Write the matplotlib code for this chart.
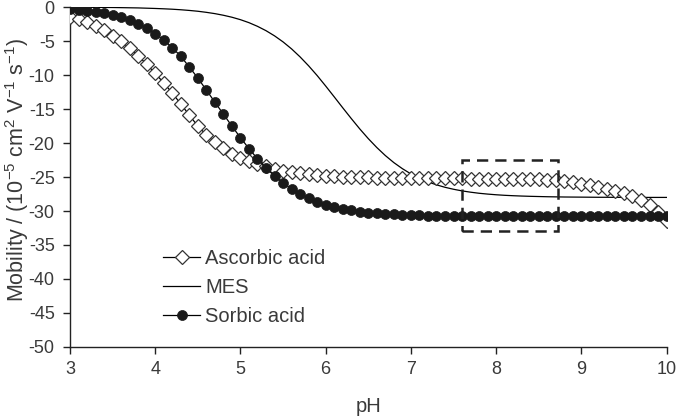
import matplotlib
matplotlib.use("Agg")
import matplotlib.pyplot as plt
from matplotlib.patches import Rectangle

# ---------------- data ----------------
ph = [round(3.0 + 0.1 * i, 1) for i in range(71)]

ascorbic = [
    -1.40, -1.75, -2.20, -2.75, -3.40, -4.19, -5.06, -6.06, -7.18, -8.41,
    -9.75, -11.15, -12.65, -14.25, -15.90, -17.50, -18.80, -19.90, -20.80, -21.60,
    -22.20, -22.70, -23.10, -23.45, -23.80, -24.05, -24.25, -24.40, -24.55, -24.68,
    -24.78, -24.86, -24.93, -24.98, -25.02, -25.06, -25.09, -25.11, -25.13, -25.14,
    -25.15, -25.16, -25.17, -25.18, -25.19, -25.20, -25.21, -25.22, -25.23, -25.24,
    -25.25, -25.26, -25.27, -25.28, -25.29, -25.30, -25.40, -25.50, -25.60, -25.80,
    -26.00, -26.20, -26.40, -26.70, -27.00, -27.40, -27.80, -28.40, -29.10, -30.10,
    -31.50,
]

mes = [
    -0.02, -0.02, -0.03, -0.04, -0.05, -0.06, -0.08, -0.10, -0.12, -0.16,
    -0.20, -0.25, -0.31, -0.39, -0.49, -0.61, -0.77, -0.96, -1.20, -1.49,
    -1.85, -2.29, -2.83, -3.47, -4.23, -5.12, -6.15, -7.33, -8.64, -10.07,
    -11.61, -13.20, -14.81, -16.39, -17.92, -19.35, -20.66, -21.84, -22.88, -23.77,
    -24.54, -25.18, -25.71, -26.15, -26.51, -26.80, -27.04, -27.23, -27.39, -27.51,
    -27.61, -27.69, -27.75, -27.80, -27.84, -27.87, -27.90, -27.92, -27.94, -27.95,
    -27.96, -27.97, -27.98, -27.98, -27.99, -27.99, -28.00, -28.00, -28.00, -28.00,
    -28.00,
]

sorbic = [
    -0.35, -0.45, -0.57, -0.72, -0.92, -1.18, -1.50, -1.90, -2.45, -3.10,
    -3.90, -4.85, -5.95, -7.25, -8.80, -10.45, -12.20, -13.99, -15.75, -17.51,
    -19.21, -20.82, -22.32, -23.66, -24.84, -25.87, -26.75, -27.50, -28.11, -28.63,
    -29.05, -29.39, -29.67, -29.90, -30.08, -30.22, -30.34, -30.43, -30.51, -30.57,
    -30.61, -30.65, -30.68, -30.70, -30.72, -30.73, -30.74, -30.75, -30.76, -30.76,
    -30.77, -30.77, -30.78, -30.78, -30.78, -30.79, -30.79, -30.79, -30.79, -30.80,
    -30.80, -30.80, -30.80, -30.80, -30.80, -30.80, -30.80, -30.80, -30.80, -30.80,
    -30.80,
]

labels = ["Ascorbic acid", "MES", "Sorbic acid"]
x_ticks = [3, 4, 5, 6, 7, 8, 9, 10]
y_ticks = [0, -5, -10, -15, -20, -25, -30, -35, -40, -45, -50]

box_ph = [7.6, 8.73]
box_mob = [-33.0, -22.5]

# ---------------- style ----------------
plt.rcParams["font.family"] = ["Liberation Sans", "DejaVu Sans"]
plt.rcParams["mathtext.default"] = "regular"
text_col = "#3a3a3a"

fig = plt.figure(figsize=(6.81, 4.18), dpi=100)
ax = fig.add_axes([0.1028, 0.170, 0.876, 0.813])

ax.plot(ph, ascorbic, color="black", lw=0.9, marker="D", ms=7.4,
        mfc="white", mec="#333333", mew=0.9, label=labels[0], zorder=3)
ax.plot(ph, mes, color="black", lw=0.9, label=labels[1], zorder=2)
ax.plot(ph, sorbic, color="black", lw=0.9, marker="o", ms=7.2,
        mfc="#1a1a1a", mec="#1a1a1a", mew=0.5, label=labels[2], zorder=4)

rect = Rectangle((box_ph[0], box_mob[0]), box_ph[1] - box_ph[0],
                 box_mob[1] - box_mob[0], fill=False, edgecolor="#222222",
                 lw=1.8, linestyle=(0, (4.5, 2.8)), zorder=5)
ax.add_patch(rect)

ax.set_xlim(3, 10)
ax.set_ylim(-50, 0)
ax.set_xticks(x_ticks)
ax.set_yticks(y_ticks)
ax.set_xticklabels([str(t) for t in x_ticks])
ax.set_yticklabels([str(t) for t in y_ticks])

for s in ["top", "right"]:
    ax.spines[s].set_visible(False)
for s in ["left", "bottom"]:
    ax.spines[s].set_color("#222222")
    ax.spines[s].set_linewidth(1.0)

ax.tick_params(axis="both", direction="out", length=5, width=1.0,
               colors="#222222", labelcolor=text_col, labelsize=13)
ax.tick_params(axis="x", pad=5)
ax.tick_params(axis="y", pad=6)
ax.set_xlabel("pH", fontsize=14.5, color=text_col, labelpad=14)
ax.set_ylabel(r"Mobility / (10$^{-5}$ cm$^{2}$ V$^{-1}$ s$^{-1}$)",
              fontsize=15.5, color=text_col)
ax.yaxis.set_label_coords(-0.066, 0.52)

leg = ax.legend(loc="lower left", bbox_to_anchor=(0.156, 0.062), frameon=False,
                fontsize=14.5, handlelength=1.85, handletextpad=0.25,
                labelspacing=0.5, borderaxespad=0, borderpad=0)
for t in leg.get_texts():
    t.set_color(text_col)

fig.savefig("out.png", dpi=100)
